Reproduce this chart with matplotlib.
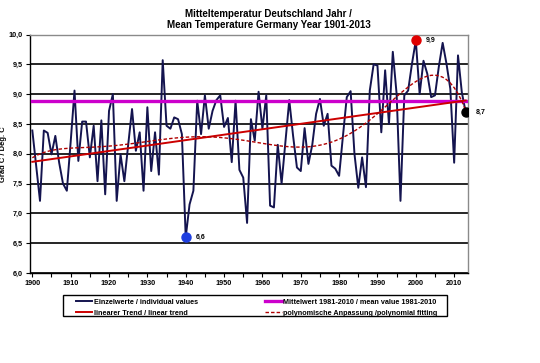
import matplotlib
matplotlib.use("Agg")
import matplotlib.pyplot as plt
from matplotlib.patches import Rectangle
import numpy as np

years = np.arange(1900, 2014)
temps = [
    8.39, 7.80, 7.21, 8.39, 8.35, 7.99, 8.30, 7.85, 7.50, 7.38,
    8.20, 9.06, 7.88, 8.54, 8.54, 7.94, 8.47, 7.54, 8.56, 7.32,
    8.72, 9.00, 7.21, 7.99, 7.54, 8.15, 8.75, 8.05, 8.36, 7.38,
    8.78, 7.71, 8.36, 7.65, 9.57, 8.47, 8.42, 8.61, 8.58, 8.33,
    6.60, 7.15, 7.38, 8.89, 8.33, 8.98, 8.42, 8.72, 8.90, 8.98,
    8.45, 8.60, 7.86, 8.89, 7.73, 7.60, 6.84, 8.58, 8.22, 9.04,
    8.42, 8.98, 7.13, 7.10, 8.15, 7.50, 8.20, 8.90, 8.30, 7.77,
    7.71, 8.43, 7.83, 8.15, 8.67, 8.92, 8.47, 8.67, 7.80, 7.75,
    7.63, 8.30, 8.95, 9.05, 8.00, 7.43, 7.94, 7.44, 9.06, 9.50,
    9.48, 8.36, 9.40, 8.50, 9.71, 9.00, 7.21, 8.98, 9.06, 9.51,
    9.90, 9.00, 9.56, 9.34, 8.95, 8.98, 9.46, 9.86, 9.51, 9.09,
    7.85, 9.65, 9.03, 8.70,
]
temps = np.array(temps)

# highlighted years: min, max, last
marks = [(1940, "#1f3fe0", "6,6"), (2000, "#e00000", "9,9"), (2013, "black", "8,7")]

legend_labels = [
    "Einzelwerte / individual values",
    "linearer Trend / linear trend",
    "Mittelwert 1981-2010 / mean value 1981-2010",
    "polynomische Anpassung /polynomial fitting",
]

plt.rcParams["font.family"] = ["Liberation Sans", "DejaVu Sans"]
plt.rcParams["font.weight"] = "bold"

fig = plt.figure(figsize=(5.4, 3.63), dpi=100)
ax = fig.add_axes([0.0556, 0.2479, 0.811, 0.657])

# reference period mean
ref = (years >= 1981) & (years <= 2010)
mean_ref = temps[ref].mean()

# fits
xn = (years - 1956.5) / 57.0
lin = np.polyval(np.polyfit(xn, temps, 1), xn)
poly = np.polyval(np.polyfit(xn, temps, 6), xn)

for v in np.arange(6.0, 10.01, 0.5):
    ax.axhline(v, color="black", lw=1.2, zorder=1)

l1, = ax.plot(years, temps, color="#14144f", lw=1.4, zorder=3)
l3, = ax.plot([years[0], years[-1]], [mean_ref, mean_ref], color="#cc00cc", lw=2.4, zorder=4)
l2, = ax.plot(years, lin, color="#cc0000", lw=1.4, zorder=5)
l4, = ax.plot(years, poly, color="#b00000", lw=1.0, ls=(0, (2.5, 1.5)), zorder=5)

for yr, col, txt in marks:
    val = temps[years == yr][0]
    ax.plot(yr, val, "o", color=col, ms=6.5, zorder=6)
    ax.text(yr + 2.7, val, txt, fontsize=5, fontweight="bold", va="center", zorder=7)

ax.set_xlim(1899.4, 2013.6)
ax.set_ylim(6.0, 10.0)
ax.set_xticks(np.arange(1900, 2011, 10))
ax.set_xticks(np.arange(1905, 2011, 10), minor=True)
ax.set_yticks(np.arange(6.0, 10.01, 0.5))
ax.set_yticklabels([f"{v:.1f}".replace(".", ",") for v in np.arange(6.0, 10.01, 0.5)])
ax.tick_params(axis="both", labelsize=5.2, length=3, width=0.8, pad=2)
ax.tick_params(axis="x", which="minor", length=3, width=0.8)
for lab in ax.get_xticklabels() + ax.get_yticklabels():
    lab.set_fontweight("bold")

ax.spines["left"].set_color("black")
ax.spines["bottom"].set_color("black")
ax.spines["top"].set_color("#8a8a8a")
ax.spines["right"].set_color("#8a8a8a")
for s in ax.spines.values():
    s.set_linewidth(1.0)

ax.set_ylabel("Grad C / Deg. C", fontsize=5.5, fontweight="bold")
ax.yaxis.set_label_coords(-0.052, 0.5)

fig.text(0.497, 0.962, "Mitteltemperatur Deutschland Jahr /", ha="center", va="center",
         fontsize=7, fontweight="bold")
fig.text(0.497, 0.930, "Mean Temperature Germany Year 1901-2013", ha="center", va="center",
         fontsize=7, fontweight="bold")

leg = fig.legend(
    [l1, l2, l3, l4], legend_labels,
    ncol=2, loc="upper left", bbox_to_anchor=(72 / 540, 1 - 295 / 363),
    prop={"size": 5.2, "weight": "bold"}, frameon=False, borderpad=0,
    handlelength=2.3, handletextpad=0.2, columnspacing=9.3, labelspacing=0.55,
)
fig.patches.append(Rectangle((63 / 540, 1 - 316 / 363), 384 / 540, 21.5 / 363,
                             transform=fig.transFigure, fill=False,
                             edgecolor="black", lw=1.0))

fig.savefig("out.png", dpi=100)
